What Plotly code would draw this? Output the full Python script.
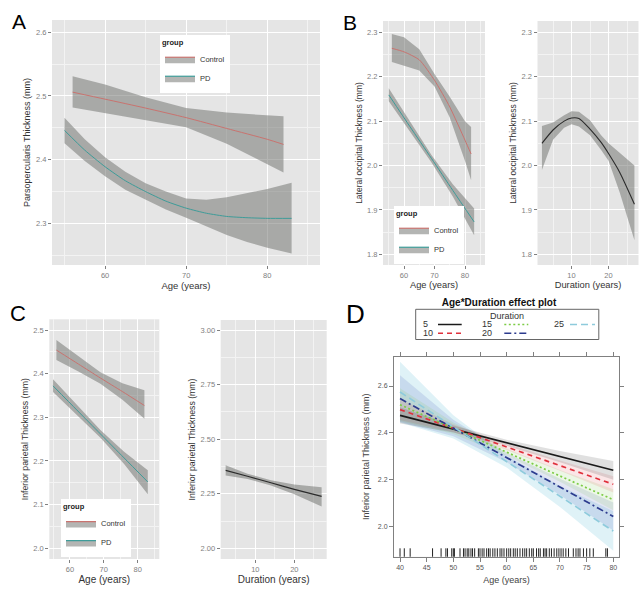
import plotly.graph_objects as go

W, H = 643, 595
FONT = "Liberation Sans, Arial, sans-serif"

# ---------------- Panel A : Parsopercularis ----------------
a_ctrl_age = [56, 60, 65, 70, 75, 80, 82]
a_ctrl_fit = [2.506, 2.495, 2.481, 2.466, 2.449, 2.432, 2.424]
a_ctrl_lo = [2.482, 2.473, 2.462, 2.451, 2.425, 2.393, 2.380]
a_ctrl_hi = [2.531, 2.518, 2.498, 2.481, 2.474, 2.469, 2.468]
a_pd_age = [55, 57.5, 60, 62.5, 65, 67.5, 70, 72.5, 75, 77.5, 80, 83]
a_pd_fit = [2.446, 2.415, 2.389, 2.367, 2.350, 2.335, 2.324, 2.316, 2.311, 2.309, 2.308, 2.308]
a_pd_lo = [2.426, 2.398, 2.374, 2.353, 2.337, 2.322, 2.309, 2.296, 2.282, 2.271, 2.262, 2.253]
a_pd_hi = [2.466, 2.432, 2.404, 2.381, 2.363, 2.350, 2.339, 2.337, 2.341, 2.347, 2.354, 2.364]

# ---------------- Panel B : Lateral occipital ----------------
b_ctrl_age = [56, 60, 65, 70, 75, 80, 82]
b_ctrl_fit = [2.264, 2.256, 2.238, 2.192, 2.132, 2.057, 2.026]
b_ctrl_lo = [2.233, 2.225, 2.214, 2.178, 2.108, 2.010, 1.967]
b_ctrl_hi = [2.296, 2.289, 2.262, 2.206, 2.155, 2.100, 2.087]
b_pd_age = [55, 62, 69, 76, 83]
b_pd_fit = [2.159, 2.087, 2.016, 1.944, 1.873]
b_pd_lo = [2.145, 2.076, 2.007, 1.930, 1.843]
b_pd_hi = [2.174, 2.098, 2.024, 1.958, 1.903]
b_dur = [2, 5, 8, 10, 12, 15, 18, 20, 23, 27]
b_dur_fit = [2.050, 2.080, 2.100, 2.107, 2.106, 2.082, 2.052, 2.027, 1.985, 1.913]
b_dur_lo = [1.990, 2.058, 2.085, 2.093, 2.088, 2.068, 2.035, 2.011, 1.940, 1.832]
b_dur_hi = [2.089, 2.097, 2.113, 2.122, 2.121, 2.102, 2.068, 2.050, 2.029, 2.000]

# ---------------- Panel C : Inferior parietal ----------------
c_ctrl_age = [56, 62.5, 69, 75.5, 82]
c_ctrl_fit = [2.454, 2.422, 2.390, 2.359, 2.327]
c_ctrl_lo = [2.431, 2.405, 2.377, 2.340, 2.297]
c_ctrl_hi = [2.477, 2.439, 2.403, 2.378, 2.362]
c_pd_age = [55, 62, 69, 76, 83]
c_pd_fit = [2.372, 2.317, 2.262, 2.207, 2.152]
c_pd_lo = [2.358, 2.306, 2.253, 2.193, 2.124]
c_pd_hi = [2.387, 2.328, 2.271, 2.221, 2.179]
c_dur = [2.4, 8, 14, 20, 27]
c_dur_fit = [2.357, 2.330, 2.300, 2.270, 2.238]
c_dur_lo = [2.334, 2.318, 2.288, 2.248, 2.192]
c_dur_hi = [2.380, 2.342, 2.312, 2.292, 2.280]

# ---------------- Panel D : Age*Duration effect ----------------
d_age = [40, 50, 60, 70, 80]
d_durations = ["5", "10", "15", "20", "25"]
d_fit = {
    "5": [2.474, 2.416, 2.357, 2.298, 2.239],
    "10": [2.499, 2.419, 2.339, 2.259, 2.179],
    "15": [2.520, 2.419, 2.317, 2.215, 2.113],
    "20": [2.546, 2.420, 2.294, 2.168, 2.041],
    "25": [2.574, 2.425, 2.276, 2.127, 1.979],
}
d_lo = {
    "5": [2.439, 2.401, 2.344, 2.274, 2.199],
    "10": [2.454, 2.402, 2.326, 2.237, 2.144],
    "15": [2.450, 2.394, 2.302, 2.190, 2.068],
    "20": [2.446, 2.385, 2.274, 2.133, 1.981],
    "25": [2.444, 2.375, 2.251, 2.082, 1.894],
}
d_hi = {
    "5": [2.509, 2.431, 2.370, 2.322, 2.279],
    "10": [2.544, 2.436, 2.352, 2.281, 2.214],
    "15": [2.590, 2.444, 2.332, 2.240, 2.158],
    "20": [2.646, 2.455, 2.314, 2.203, 2.101],
    "25": [2.704, 2.475, 2.301, 2.172, 2.064],
}
rug_ages = [40, 40.8, 41.9, 46.1, 47.7, 48.6, 48.9, 49.7, 50, 50.2, 51.25, 51.9, 52.2,
            52.6, 52.9, 53.3, 53.6, 54, 54.7, 55, 55.4, 55.75, 56.25, 56.6, 56.9, 57.4,
            57.8, 58.25, 58.75, 59.1, 59.5, 60, 60.4, 60.75, 61.25, 61.6, 62, 62.5, 63,
            63.4, 63.75, 64.25, 64.7, 65, 65.6, 66, 66.3, 66.9, 67.2, 67.5, 68, 68.4,
            68.9, 69.4, 69.8, 70.2, 70.6, 71.1, 71.6, 72.5, 73, 73.4, 73.75, 74.4, 75,
            75.6, 76.25, 78.6, 78.9]

# ---------------- styles ----------------
CTRL = "#c9736f"
PD = "#3e9c99"
DARK = "#2b2b2b"
BAND = "rgba(118,120,116,0.55)"
d_line_col = {"5": "#1a1a1a", "10": "#e0303c", "15": "#7ccc45", "20": "#2c3b8e", "25": "#8ecbdc"}
d_band_col = {"5": "rgba(0,0,0,0.12)", "10": "rgba(225,60,70,0.13)", "15": "rgba(120,200,80,0.14)",
              "20": "rgba(60,80,175,0.14)", "25": "rgba(110,195,220,0.22)"}
d_dash = {"5": "solid", "10": "5px,4px", "15": "2px,2.5px", "20": "7px,3px,2px,3px", "25": "7px,4px"}

def fx(p):
    return p / W

def fy(p):
    return 1 - p / H

fig = go.Figure()

def band(x, lo, hi, ax, color):
    fig.add_trace(go.Scatter(x=list(x) + list(x)[::-1], y=list(hi) + list(lo)[::-1],
                             fill="toself", fillcolor=color, line=dict(width=0), mode="lines",
                             hoverinfo="skip", showlegend=False, xaxis="x" + ax, yaxis="y" + ax))

def curve(x, y, ax, color, width=1.0, dash="solid", name=None):
    fig.add_trace(go.Scatter(x=x, y=y, mode="lines", line=dict(color=color, width=width, dash=dash,
                             shape="spline", smoothing=0.6), showlegend=False, name=name,
                             xaxis="x" + ax, yaxis="y" + ax))

def legend_key(name, color, ax, leg):
    fig.add_trace(go.Scatter(x=[None], y=[None], mode="lines", fill="toself", fillcolor=BAND,
                             line=dict(color=color, width=1.2), name=name, legend=leg,
                             xaxis="x" + ax, yaxis="y" + ax))

# A
band(a_ctrl_age, a_ctrl_lo, a_ctrl_hi, "", BAND)
band(a_pd_age, a_pd_lo, a_pd_hi, "", BAND)
curve(a_ctrl_age, a_ctrl_fit, "", CTRL)
curve(a_pd_age, a_pd_fit, "", PD)
legend_key("Control", CTRL, "", "legend")
legend_key("PD", PD, "", "legend")
# B
band(b_ctrl_age, b_ctrl_lo, b_ctrl_hi, "2", BAND)
band(b_pd_age, b_pd_lo, b_pd_hi, "2", BAND)
curve(b_ctrl_age, b_ctrl_fit, "2", CTRL)
curve(b_pd_age, b_pd_fit, "2", PD)
legend_key("Control", CTRL, "2", "legend2")
legend_key("PD", PD, "2", "legend2")
band(b_dur, b_dur_lo, b_dur_hi, "3", BAND)
curve(b_dur, b_dur_fit, "3", DARK, 1.1)
# C
band(c_ctrl_age, c_ctrl_lo, c_ctrl_hi, "4", BAND)
band(c_pd_age, c_pd_lo, c_pd_hi, "4", BAND)
curve(c_ctrl_age, c_ctrl_fit, "4", CTRL)
curve(c_pd_age, c_pd_fit, "4", PD)
legend_key("Control", CTRL, "4", "legend3")
legend_key("PD", PD, "4", "legend3")
band(c_dur, c_dur_lo, c_dur_hi, "5", BAND)
curve(c_dur, c_dur_fit, "5", DARK, 1.1)
# D
for k in d_durations[::-1]:
    band(d_age, d_lo[k], d_hi[k], "6", d_band_col[k])
for k in d_durations:
    fig.add_trace(go.Scatter(x=d_age, y=d_fit[k], mode="lines", name=k, showlegend=False,
                             line=dict(color=d_line_col[k], width=1.7, dash=d_dash[k]),
                             xaxis="x6", yaxis="y6"))
D_YR = [1.869, 2.7255]
fig.add_trace(go.Scatter(x=rug_ages, y=[D_YR[0] + 0.015] * len(rug_ages), mode="markers",
                         marker=dict(symbol="line-ns", size=7, color="#222",
                                     line=dict(width=1, color="#222")),
                         showlegend=False, hoverinfo="skip", xaxis="x6", yaxis="y6"))

# ---------------- axes ----------------
def gg_axis(domain, rng, title, dtick, minor, size=9.5, standoff=3, fmt=None, anchor=None):
    d = dict(domain=domain, range=rng, showgrid=True, gridcolor="white", gridwidth=1.1,
             minor=dict(showgrid=True, gridcolor="#f3f3f3", gridwidth=0.5, dtick=minor),
             dtick=dtick, ticks="outside", ticklen=3, tickwidth=1, tickcolor="#808080",
             tickfont=dict(size=7.5, color="#808080", family=FONT), zeroline=False,
             showline=False, anchor=anchor,
             title=dict(text=title, font=dict(size=size, color="#333", family=FONT), standoff=standoff))
    if fmt:
        d["tickformat"] = fmt
    return d

lay = {}
lay["xaxis"] = gg_axis([fx(52), fx(320)], [53.46, 86.5], "Age (years)", 10, 5, 9.5, 2, anchor="y")
lay["yaxis"] = gg_axis([fy(265), fy(20)], [2.2348, 2.6192], "Parsopercularis Thickness (mm)", 0.1, 0.05, 9, 3, ".1f", anchor="x")
lay["xaxis2"] = gg_axis([fx(383), fx(485)], [53.1, 86.56], "Age (years)", 10, 5, 9.3, 2, anchor="y2")
lay["yaxis2"] = gg_axis([fy(265), fy(21)], [1.776, 2.3255], "Lateral occipital Thickness (mm)", 0.1, 0.05, 8.5, 3, ".1f", anchor="x2")
lay["xaxis3"] = gg_axis([fx(537.5), fx(638.5)], [0.8, 28.1], "Duration (years)", 10, 5, 9.3, 2, anchor="y3")
lay["yaxis3"] = gg_axis([fy(265), fy(21)], [1.776, 2.3255], "Lateral occipital Thickness (mm)", 0.1, 0.05, 8.5, 3, ".1f", anchor="x3")
lay["xaxis4"] = gg_axis([fx(49.3), fx(159.3)], [53.9, 86.4], "Age (years)", 10, 5, 10, 2, anchor="y4")
lay["yaxis4"] = gg_axis([fy(559), fy(319.3)], [1.9755, 2.5245], "Inferior parietal Thickness (mm)", 0.1, 0.05, 8.7, 3, ".1f", anchor="x4")
lay["xaxis5"] = gg_axis([fx(220.7), fx(326.7)], [1.13, 28.3], "Duration (years)", 10, 5, 10, 2, anchor="y5")
lay["yaxis5"] = gg_axis([fy(559), fy(320)], [1.951, 3.0458], "Inferior parietal Thickness (mm)", 0.25, 0.125, 8.7, 3, ".2f", anchor="x5")

lat = dict(showgrid=False, zeroline=False, showline=True, linecolor="#808080", linewidth=1,
           mirror="ticks", ticks="outside", ticklen=4, tickcolor="#808080",
           tickfont=dict(size=7, color="#555", family=FONT))
lay["xaxis6"] = dict(lat, domain=[fx(394), fx(619)], range=[38.87, 81.07], dtick=5, anchor="y6",
                     title=dict(text="Age (years)", font=dict(size=9, color="#444", family=FONT), standoff=6))
lay["yaxis6"] = dict(lat, domain=[fy(556.7), fy(356.7)], range=D_YR, dtick=0.2, tickformat=".1f", anchor="x6",
                     title=dict(text="Inferior parietal Thickness (mm)", font=dict(size=9, color="#444", family=FONT), standoff=6))

def gg_legend(x, y):
    return dict(x=fx(x), y=fy(y), xanchor="left", yanchor="top", bgcolor="white", borderwidth=0,
                font=dict(size=7.5, color="#333", family=FONT), itemwidth=30, tracegroupgap=0,
                title=dict(text="<b>group</b>", font=dict(size=7.5, color="#222", family=FONT)))

lay["legend"] = gg_legend(160, 35)
lay["legend2"] = gg_legend(394, 206)
lay["legend3"] = gg_legend(61, 499.3)

# panel letters
ann = []
for txt, x, y, s in [("A", 18.5, 22, 21), ("B", 349.7, 22.5, 21), ("C", 18, 313, 22), ("D", 355.3, 313.5, 26)]:
    ann.append(dict(text=txt, x=fx(x), y=fy(y), xref="paper", yref="paper", showarrow=False,
                    xanchor="center", yanchor="middle", font=dict(size=s, color="black", family=FONT)))

# D legend (lattice key)
shapes = [dict(type="rect", xref="x6 domain", yref="y6 domain", x0=0, x1=1, y0=0, y1=1,
               fillcolor="white", line=dict(width=0), layer="below"),
          dict(type="rect", xref="paper", yref="paper", x0=fx(415.7), x1=fx(598.8), y0=fy(339.5), y1=fy(309.3),
               line=dict(color="#666", width=1), fillcolor="rgba(0,0,0,0)")]
ann.append(dict(text="Duration", x=fx(507), y=fy(316), xref="paper", yref="paper", showarrow=False,
                xanchor="center", yanchor="middle", font=dict(size=9, color="#333", family=FONT)))
key_pos = {"5": (421, 438, 461.7, 324.5), "10": (421, 438, 461.7, 333.2),
           "15": (480.5, 504.3, 528.3, 324.5), "20": (480.5, 504.3, 528.3, 333.2),
           "25": (551.5, 570, 595, 324.5)}
for k in d_durations:
    tx, l0, l1, yy = key_pos[k]
    ann.append(dict(text=k, x=fx(tx), y=fy(yy), xref="paper", yref="paper", showarrow=False,
                    xanchor="left", yanchor="middle", font=dict(size=9, color="#333", family=FONT)))
    shapes.append(dict(type="line", xref="paper", yref="paper", x0=fx(l0), x1=fx(l1), y0=fy(yy), y1=fy(yy),
                       line=dict(color=d_line_col[k], width=1.5, dash=d_dash[k])))

fig.update_layout(
    width=W, height=H, margin=dict(l=0, r=0, t=0, b=0),
    paper_bgcolor="white", plot_bgcolor="#e5e5e5",
    font=dict(family=FONT),
    title=dict(text="<b>Age*Duration effect plot</b>", x=fx(499), y=fy(302), xanchor="center",
               yanchor="middle", font=dict(size=10, color="#111", family=FONT)),
    annotations=ann, shapes=shapes, **lay)

fig.write_html("out.html", config={"displayModeBar": False},
               post_script="document.body.style.margin='0px';document.body.style.padding='0px';")
